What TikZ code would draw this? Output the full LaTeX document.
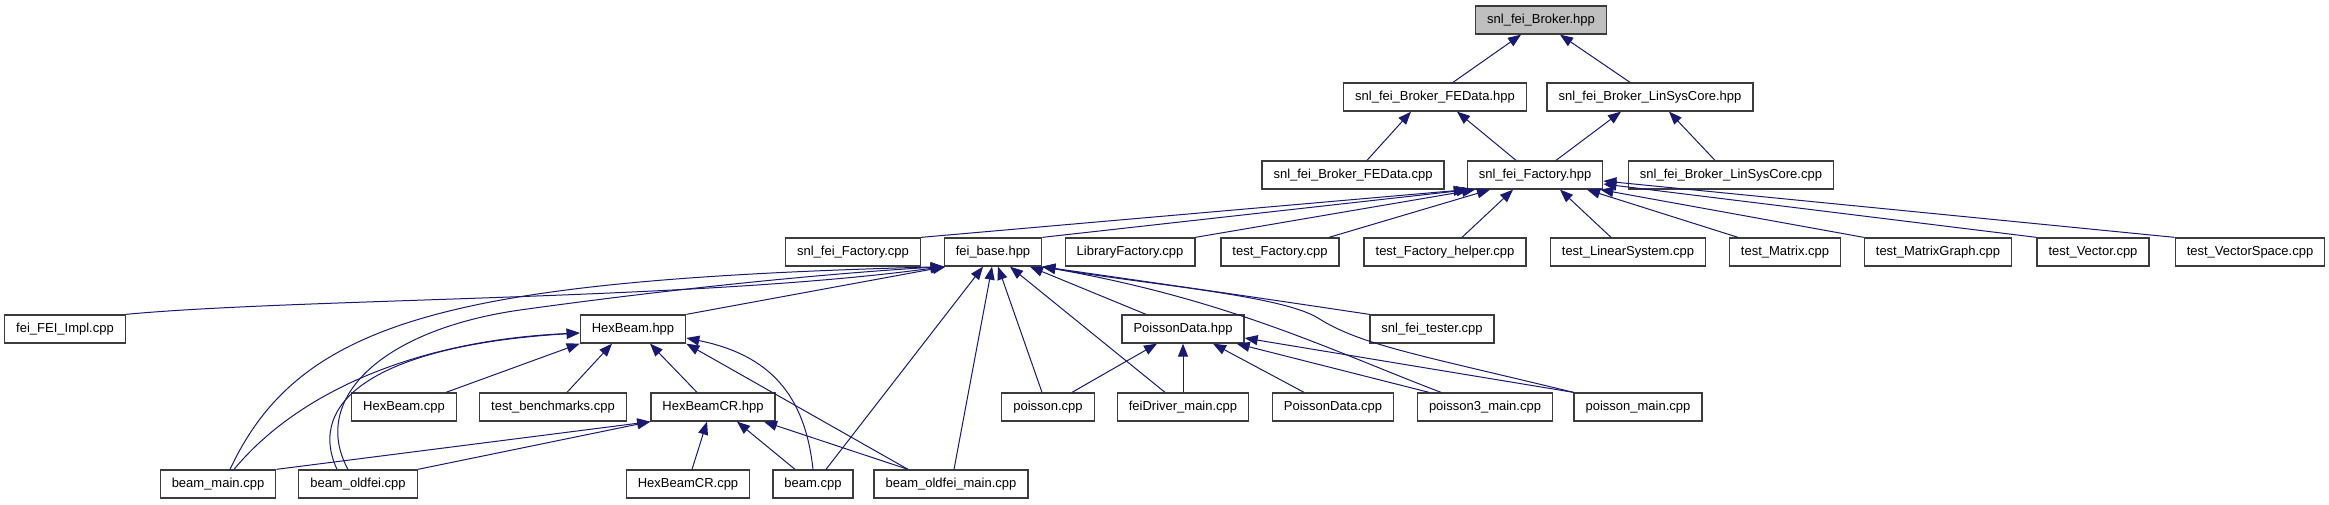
\documentclass[tikz,border=0pt]{standalone}
\usepackage{fontspec}
\setmainfont{Liberation Sans}
\usetikzlibrary{arrows.meta}
\definecolor{edgecol}{RGB}{25,25,112}
\definecolor{boxcol}{RGB}{60,60,60}
\definecolor{rootfill}{RGB}{191,191,191}
\begin{document}
\begin{tikzpicture}[x=1pt,y=-1pt,
  file/.style={draw=boxcol, line width=1.3pt, fill=white, minimum height=28pt,
    inner xsep=11.5pt, inner ysep=0pt, font=\fontsize{13}{15}\selectfont},
  rootfile/.style={file, fill=rootfill},
  edge/.style={draw=edgecol, line width=1pt, -{Triangle[length=13pt,width=10pt]}}]
\useasboundingbox[fill=white] (0,0) rectangle (2329,504);
% row 0
\node[rootfile] (broker) at (1541,20) {snl\_fei\_Broker.hpp};
% row 1
\node[file] (fedh) at (1435,97) {snl\_fei\_Broker\_FEData.hpp};
\node[file] (lsch) at (1650,97) {snl\_fei\_Broker\_LinSysCore.hpp};
% row 2
\node[file] (fedc) at (1353,175) {snl\_fei\_Broker\_FEData.cpp};
\node[file] (facth) at (1535,175) {snl\_fei\_Factory.hpp};
\node[file] (lscc) at (1731,175) {snl\_fei\_Broker\_LinSysCore.cpp};
% row 3
\node[file] (factc) at (853,252) {snl\_fei\_Factory.cpp};
\node[file] (feibase) at (993,252) {fei\_base.hpp};
\node[file] (libfac) at (1130,252) {LibraryFactory.cpp};
\node[file] (tfac) at (1280,252) {test\_Factory.cpp};
\node[file] (tfach) at (1445,252) {test\_Factory\_helper.cpp};
\node[file] (tls) at (1628,252) {test\_LinearSystem.cpp};
\node[file] (tmat) at (1785,252) {test\_Matrix.cpp};
\node[file] (tmg) at (1938,252) {test\_MatrixGraph.cpp};
\node[file] (tvec) at (2093,252) {test\_Vector.cpp};
\node[file] (tvs) at (2250,252) {test\_VectorSpace.cpp};
% row 4
\node[file] (feiimpl) at (65,329) {fei\_FEI\_Impl.cpp};
\node[file] (hexh) at (633,329) {HexBeam.hpp};
\node[file] (pdh) at (1183,329) {PoissonData.hpp};
\node[file] (tester) at (1432,329) {snl\_fei\_tester.cpp};
% row 5
\node[file] (hexc) at (404,407) {HexBeam.cpp};
\node[file] (bench) at (553,407) {test\_benchmarks.cpp};
\node[file] (hexcrh) at (713,407) {HexBeamCR.hpp};
\node[file] (poisson) at (1048,407) {poisson.cpp};
\node[file] (feidrv) at (1183,407) {feiDriver\_main.cpp};
\node[file] (pdc) at (1333,407) {PoissonData.cpp};
\node[file] (p3m) at (1485,407) {poisson3\_main.cpp};
\node[file] (pm) at (1638,407) {poisson\_main.cpp};
% row 6
\node[file] (bmain) at (218,484) {beam\_main.cpp};
\node[file] (boldfei) at (358,484) {beam\_oldfei.cpp};
\node[file] (hexcrc) at (688,484) {HexBeamCR.cpp};
\node[file] (beam) at (813,484) {beam.cpp};
\node[file] (bofm) at (951,484) {beam\_oldfei\_main.cpp};

% edges to broker
\draw[edge] ([xshift=18pt]fedh.north) -- ([xshift=-20pt]broker.south);
\draw[edge] ([xshift=-20pt]lsch.north) -- ([xshift=19pt]broker.south);
% to FEData.hpp / LinSysCore.hpp
\draw[edge] ([xshift=14pt]fedc.north) -- ([xshift=-24pt]fedh.south);
\draw[edge] ([xshift=-19pt]facth.north) -- ([xshift=22pt]fedh.south);
\draw[edge] ([xshift=21pt]facth.north) -- ([xshift=-29pt]lsch.south);
\draw[edge] ([xshift=-16pt]lscc.north) -- ([xshift=19pt]lsch.south);
% to snl_fei_Factory.hpp
\draw[edge] (factc.north east) -- (facth.south west);
\draw[edge] (feibase.north east) -- ([xshift=3pt]facth.south west);
\draw[edge] (libfac.north east) -- ([xshift=-60pt]facth.south);
\draw[edge] ([xshift=49pt]tfac.north) -- ([xshift=-45pt]facth.south);
\draw[edge] ([xshift=17pt]tfach.north) -- ([xshift=-22pt]facth.south);
\draw[edge] ([xshift=-17pt]tls.north) -- ([xshift=25pt]facth.south);
\draw[edge] ([xshift=-47pt]tmat.north) -- ([xshift=52pt]facth.south);
\draw[edge] (tmg.north west) -- ([xshift=-3pt]facth.south east);
\draw[edge] (tvec.north west) -- ([yshift=-9pt]facth.east);
\draw[edge] (tvs.north west) -- ([yshift=-6pt]facth.east);
% to fei_base.hpp
\draw[edge] (feiimpl.north east) .. controls (300,298) and (700,300) .. (feibase.south west);
\draw[edge] ([xshift=12pt]bmain.north) .. controls (300,320) and (450,280) .. (feibase.south west);
\draw[edge] ([xshift=-10pt]boldfei.north) .. controls (310,400) and (380,330) .. (520,310)
   .. controls (700,285) and (850,272) .. (feibase.south west);
\draw[edge] (hexh.north east) -- ([xshift=2pt]feibase.south west);
\draw[edge] ([xshift=13pt]beam.north) -- ([xshift=-10pt]feibase.south);
\draw[edge] ([xshift=3pt]bofm.north) -- ([xshift=-1pt]feibase.south);
\draw[edge] ([xshift=-6pt]poisson.north) -- ([xshift=5pt]feibase.south);
\draw[edge] ([xshift=-18pt]feidrv.north) -- ([xshift=17pt]feibase.south);
\draw[edge] ([xshift=-37pt]pdh.north) -- ([xshift=37pt]feibase.south);
\draw[edge] (tester.north west) .. controls (1260,298) .. (feibase.south east);
\draw[edge] ([xshift=-44pt]p3m.north) .. controls (1330,350) and (1230,300) .. (feibase.south east);
\draw[edge] (pm.north west) .. controls (1420,355) and (1360,345) .. (1318,318)
   .. controls (1280,295) and (1150,285) .. (feibase.south east);
% to HexBeam.hpp
\draw[edge] ([xshift=16pt]bmain.north) .. controls (300,390) and (420,340) .. ([yshift=-4pt]hexh.west);
\draw[edge] ([xshift=-21pt]boldfei.north) .. controls (305,400) and (380,345) .. ([yshift=-4pt]hexh.west);
\draw[edge] ([xshift=42pt]hexc.north) -- (hexh.south west);
\draw[edge] ([xshift=14pt]bench.north) -- ([xshift=-21pt]hexh.south);
\draw[edge] ([xshift=-16pt]hexcrh.north) -- ([xshift=17pt]hexh.south);
\draw[edge] (beam.north) .. controls (805,395) and (770,355) .. ([yshift=-9pt]hexh.east);
\draw[edge] ([xshift=-43pt]bofm.north) -- (hexh.south east);
% to HexBeamCR.hpp
\draw[edge] (bmain.north east) -- (hexcrh.south west);
\draw[edge] (boldfei.north east) -- (hexcrh.south west);
\draw[edge] ([xshift=4pt]hexcrc.north) -- ([xshift=-6pt]hexcrh.south);
\draw[edge] ([xshift=-18pt]beam.north) -- ([xshift=24pt]hexcrh.south);
\draw[edge] ([xshift=-43pt]bofm.north) -- ([xshift=51pt]hexcrh.south);
% to PoissonData.hpp
\draw[edge] ([xshift=24pt]poisson.north) -- ([xshift=-26pt]pdh.south);
\draw[edge] (feidrv.north) -- (pdh.south);
\draw[edge] ([xshift=-29pt]pdc.north) -- ([xshift=30pt]pdh.south);
\draw[edge] ([xshift=-56pt]p3m.north) -- ([xshift=-8pt]pdh.south east);
\draw[edge] (pm.north west) -- ([yshift=-9pt]pdh.east);
\end{tikzpicture}
\end{document}
